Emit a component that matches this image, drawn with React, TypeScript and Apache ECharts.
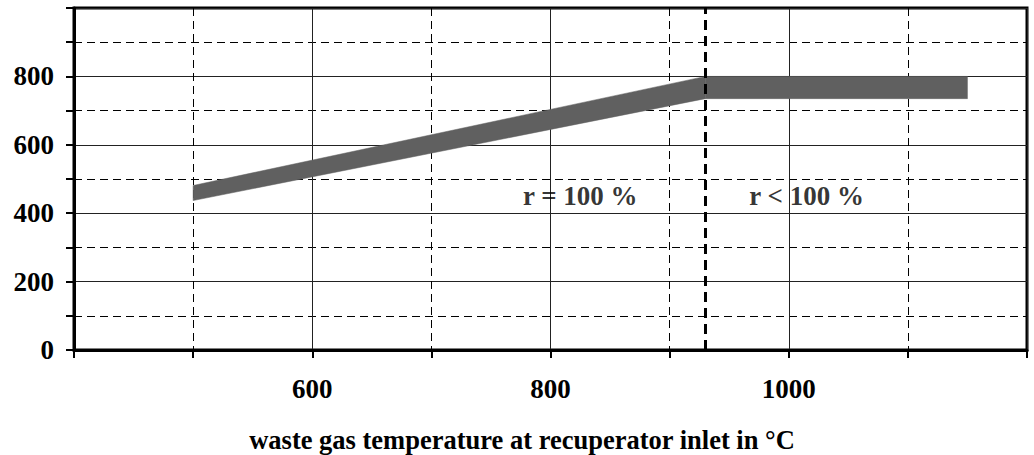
import React, { useEffect, useRef } from 'react';
import * as echarts from 'echarts';

const bandX = [500, 930, 1150];
const bandLow = [437, 735, 735];
const bandHigh = [481, 800, 800];
const regionLabels = ['r = 100 %', 'r < 100 %'];
const regionLabelX = [825, 1015];
const regionLabelY = [451, 451];
const boundaryX = 930;
const xLabelValues = [600, 800, 1000];
const yLabelValues = [0, 200, 400, 600, 800];
const xTitle = 'waste gas temperature at recuperator inlet in °C';

const FONT = '"Liberation Serif", "Times New Roman", serif';

export default function App() {
  const ref = useRef<HTMLDivElement>(null);
  useEffect(() => {
    if (!ref.current) return;
    const chart = echarts.init(ref.current, null, { renderer: 'svg' });
    const segData = bandX.slice(0, -1).map((x, i) => [x, bandLow[i], bandHigh[i], i]);
    segData.push([bandX[bandX.length - 1], bandLow[bandLow.length - 1], bandHigh[bandHigh.length - 1], -1]);
    const bandColor = '#606060';
    const option: any = {
      animation: false,
      grid: {
        left: 74,
        right: 7,
        top: 8,
        bottom: 105,
        show: true,
        borderColor: '#000',
        borderWidth: 3,
        backgroundColor: 'transparent',
      },
      xAxis: [
        {
          type: 'value',
          min: 400,
          max: 1200,
          interval: 100,
          position: 'bottom',
          axisLine: { show: true, onZero: false, lineStyle: { color: '#000', width: 3 } },
          axisTick: { show: true, inside: false, length: 8, lineStyle: { color: '#000', width: 2 } },
          axisLabel: {
            margin: 25,
            fontFamily: FONT,
            fontWeight: 'bold',
            fontSize: 27,
            color: '#000',
            formatter: (v: number) => (xLabelValues.includes(v) ? String(v) : ''),
          },
          splitLine: { show: true, lineStyle: { color: '#000', width: 1, type: [8, 5] } },
        },
        {
          type: 'value',
          min: 400,
          max: 1200,
          interval: 200,
          position: 'top',
          axisLine: { show: false },
          axisTick: { show: false },
          axisLabel: { show: false },
          splitLine: { show: true, lineStyle: { color: '#222', width: 1 } },
        },
      ],
      yAxis: [
        {
          type: 'value',
          min: 0,
          max: 1000,
          interval: 100,
          position: 'left',
          axisLine: { show: true, onZero: false, lineStyle: { color: '#000', width: 3 } },
          axisTick: { show: true, inside: false, length: 8, lineStyle: { color: '#000', width: 2 } },
          axisLabel: {
            margin: 20,
            fontFamily: FONT,
            fontWeight: 'bold',
            fontSize: 27,
            color: '#000',
            formatter: (v: number) => (yLabelValues.includes(v) ? String(v) : ''),
          },
          splitLine: { show: true, lineStyle: { color: '#000', width: 1, type: [8, 5] } },
        },
        {
          type: 'value',
          min: 0,
          max: 1000,
          interval: 200,
          position: 'right',
          axisLine: { show: false },
          axisTick: { show: false },
          axisLabel: { show: false },
          splitLine: { show: true, lineStyle: { color: '#222', width: 1 } },
        },
      ],
      series: [
        {
          type: 'custom',
          xAxisIndex: 0,
          yAxisIndex: 0,
          encode: { x: 0, y: [1, 2] },
          data: segData,
          z: 3,
          renderItem: (params: any, api: any) => {
            const i = params.dataIndex;
            if (i >= bandX.length - 1) return null;
            const pts = [
              api.coord([bandX[i], bandLow[i]]),
              api.coord([bandX[i + 1], bandLow[i + 1]]),
              api.coord([bandX[i + 1], bandHigh[i + 1]]),
              api.coord([bandX[i], bandHigh[i]]),
            ];
            return {
              type: 'polygon',
              shape: { points: pts },
              style: { fill: bandColor, stroke: bandColor, lineWidth: 0.5 },
            };
          },
        },
        {
          type: 'scatter',
          xAxisIndex: 0,
          yAxisIndex: 0,
          symbolSize: 0,
          z: 5,
          data: regionLabels.map((t, i) => ({ value: [regionLabelX[i], regionLabelY[i]], name: t })),
          label: {
            show: true,
            position: 'inside',
            formatter: (p: any) => p.name,
            fontFamily: FONT,
            fontWeight: 'bold',
            fontSize: 27,
            color: '#000',
          },
          markLine: {
            silent: true,
            symbol: ['none', 'none'],
            label: { show: false },
            lineStyle: { color: '#000', width: 3, type: [10, 6] },
            data: [{ xAxis: boundaryX }],
          },
        },
      ],
      graphic: [
        {
          type: 'text',
          x: 522,
          y: 440,
          style: {
            text: xTitle,
            fontFamily: FONT,
            fontWeight: 'bold',
            fontSize: 26.5,
            fill: '#000',
            textAlign: 'center',
            textVerticalAlign: 'middle',
          },
        },
      ],
    };
    chart.setOption(option);
    return () => chart.dispose();
  }, []);
  return <div ref={ref} style={{ width: 1034, height: 455, position: 'absolute', left: 0, top: 0 }} />;
}
